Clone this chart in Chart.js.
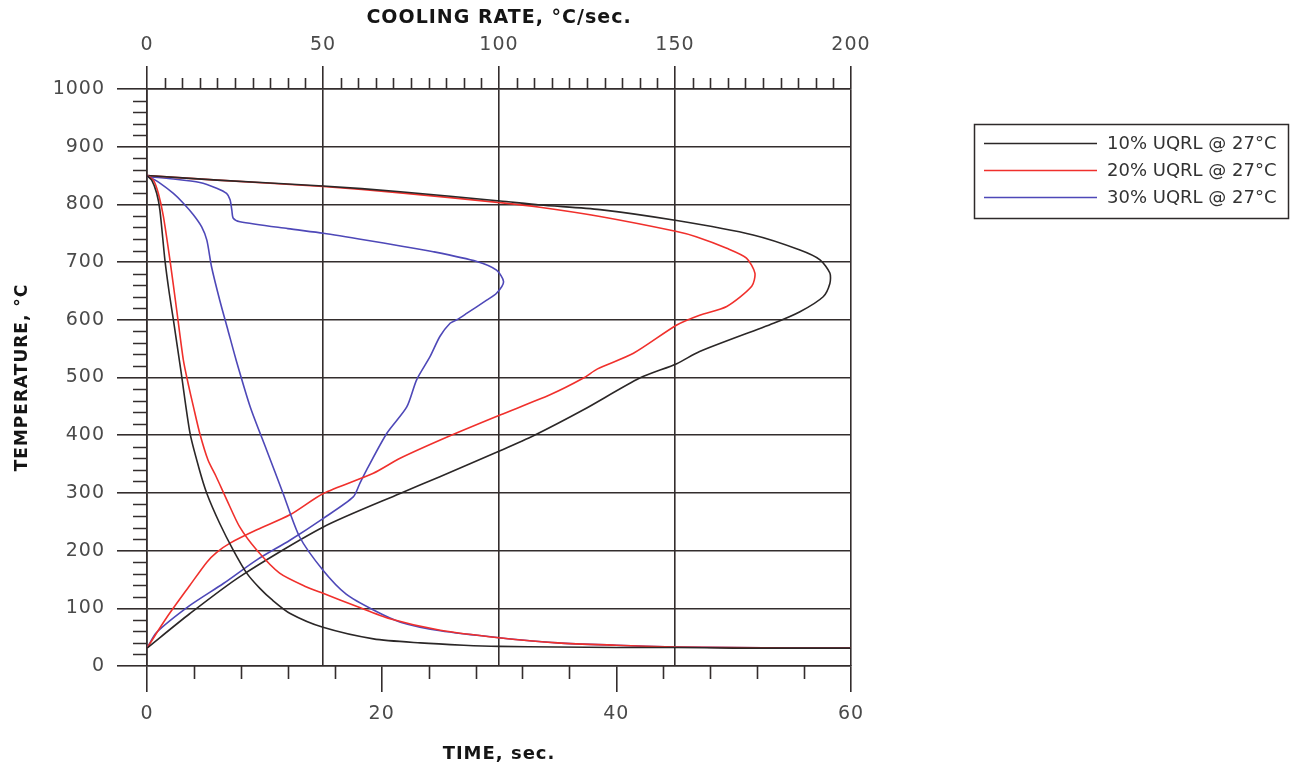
<!DOCTYPE html>
<html>
<head>
<meta charset="utf-8">
<script src="https://cdn.jsdelivr.net/npm/chart.js@4.4.0/dist/chart.umd.min.js"></script>
<style>
html,body{margin:0;padding:0;background:#ffffff;}
#wrap{width:1290px;height:765px;position:relative;}
</style>
</head>
<body>
<div id="wrap"><canvas id="c" width="1290" height="765"></canvas></div>
<script>
// ---------- labels / ticks ----------
const seriesLabels = ['10% UQRL @ 27\u00B0C', '20% UQRL @ 27\u00B0C', '30% UQRL @ 27\u00B0C'];
const seriesColors = ['#2b2727', '#f0302c', '#4e48b8'];
const timeTicks = [0, 20, 40, 60];
const rateTicks = [0, 50, 100, 150, 200];
const tempTicks = [0, 100, 200, 300, 400, 500, 600, 700, 800, 900, 1000];
const timeMinor = [4, 8, 12, 16, 24, 28, 32, 36, 44, 48, 52, 56];
const rateMinor = [5,10,15,20,25,30,35,40,45, 55,60,65,70,75,80,85,90,95, 105,110,115,120,125,130,135,140,145, 155,160,165,170,175,180,185,190,195];
const tempMinor = [20,40,60,80, 120,140,160,180, 220,240,260,280, 320,340,360,380, 420,440,460,480, 520,540,560,580, 620,640,660,680, 720,740,760,780, 820,840,860,880, 920,940,960,980];

// ---------- cooling curves: temperature vs time ----------
const time10 = [0, 0.4, 0.83, 1.1, 1.53, 1.9, 2.25, 2.9, 3.67, 4.4, 5.1, 6.2, 7.35, 8.5, 9.6, 10.7, 12.2, 15, 19.3, 23.3, 27, 30, 35, 40, 45, 50, 55, 60];
const temp10 = [850, 842, 819, 790, 703, 646, 600, 510, 403, 345, 299, 247, 201, 161, 135, 114, 91, 67, 47, 40, 36, 34, 33, 32, 32, 31, 31, 31];

const time20 = [0, 0.54, 0.97, 1.4, 1.96, 2.53, 3.1, 3.5, 3.95, 4.5, 5.2, 5.9, 6.8, 7.9, 9.35, 11.3, 13.6, 15, 17.9, 20.7, 25, 30, 35, 40, 45, 50, 55, 60];
const temp20 = [850, 842, 819, 779, 703, 617, 530, 490, 450, 403, 357, 328, 288, 241, 201, 161, 137, 126, 103, 82, 62, 49, 40, 36, 33, 32, 31, 31];

const time30 = [0, 1.1, 2.25, 3.1, 3.95, 4.66, 5.1, 5.5, 6.2, 6.9, 7.6, 8.8, 10.2, 11.6, 13.0, 15, 17, 19.3, 21.6, 25, 30, 35, 40, 45, 50, 55, 60];
const temp30 = [850, 837, 819, 802, 782, 761, 738, 692, 634, 582, 530, 449, 374, 299, 224, 166, 124, 97, 76, 61, 49, 40, 36, 33, 32, 31, 31];

// ---------- cooling rate curves: temperature vs cooling rate ----------
const rate10 = [0, 20, 50, 72, 100.3, 111.6, 128.7, 150.5, 172.2, 185.5, 191.2, 194, 194, 192.1, 185.5, 178, 157, 150.5, 140, 124, 109.8, 100.3, 83.2, 71.9, 50.1, 26.4, 12.2, 0];
const rateTemp10 = [850, 842, 832, 822, 806, 799, 791, 772, 747, 721, 704, 681, 663, 640, 614, 594, 545, 524, 499, 444, 399, 373, 328, 299, 241, 155, 91, 31];

const rate20 = [0, 20, 50, 72, 100.3, 111.6, 128.7, 150.5, 156, 164.7, 170.3, 172.7, 171.8, 164.7, 157, 150.5, 138.2, 128, 124, 114.5, 100.3, 86.1, 71.9, 64.3, 50.1, 40.6, 31.2, 23.6, 19.8, 17, 12.2, 5.6, 0];
const rateTemp20 = [850, 842, 831, 820, 803, 795, 779, 753, 744, 724, 707, 681, 658, 623, 608, 591, 542, 515, 499, 470, 435, 399, 360, 334, 299, 262, 236, 213, 197, 180, 140, 84, 31];

const rate30 = [0, 7.5, 15, 19.8, 22.6, 23.6, 24.1, 24.5, 26.4, 40, 50.1, 62.4, 72, 81.3, 93.7, 99.3, 101.3, 99.3, 96.5, 90.8, 88, 86.1, 83.2, 80.4, 76.6, 73.8, 68.1, 62.4, 60.5, 58.6, 50.1, 40.6, 31.2, 21.7, 12.2, 2.7, 0];
const rateTemp30 = [848, 844, 838, 828, 819, 808, 790, 776, 770, 758, 750, 738, 728, 718, 701, 686, 666, 646, 634, 611, 600, 594, 571, 536, 496, 449, 403, 340, 317, 293, 256, 218, 184, 143, 105, 58, 31];

// ---------- styling ----------
const gridColor = '#332d2d';
const tickColor = '#4a4a4a';
const titleColor = '#151515';

function pts(xs, ys) { return xs.map((v, i) => ({ x: v, y: ys[i] })); }

function ds(label, xs, ys, color, axis) {
  return {
    label: label,
    data: pts(xs, ys),
    xAxisID: axis,
    yAxisID: 'y',
    showLine: true,
    borderColor: color,
    backgroundColor: color,
    borderWidth: 1.6,
    pointRadius: 0,
    pointHoverRadius: 0,
    tension: 0.25,
    fill: false
  };
}

const datasets = [
  ds(seriesLabels[0], time10, temp10, seriesColors[0], 'x'),
  ds(seriesLabels[1], time20, temp20, seriesColors[1], 'x'),
  ds(seriesLabels[2], time30, temp30, seriesColors[2], 'x'),
  ds(seriesLabels[0], rate10, rateTemp10, seriesColors[0], 'x2'),
  ds(seriesLabels[1], rate20, rateTemp20, seriesColors[1], 'x2'),
  ds(seriesLabels[2], rate30, rateTemp30, seriesColors[2], 'x2')
];

const extras = {
  id: 'extras',
  beforeDraw(chart) {
    chart.ctx.letterSpacing = '1px';
  },
  afterDraw(chart) {
    const ctx = chart.ctx;
    const sx = chart.scales.x, sx2 = chart.scales.x2, sy = chart.scales.y;
    ctx.save();
    ctx.strokeStyle = gridColor;
    ctx.lineWidth = 1.6;
    ctx.beginPath();
    tempMinor.forEach(v => {
      const py = Math.round(sy.getPixelForValue(v)) + 0.5;
      ctx.moveTo(sy.right - 14, py); ctx.lineTo(sy.right, py);
    });
    rateMinor.forEach(v => {
      const px = Math.round(sx2.getPixelForValue(v)) + 0.5;
      ctx.moveTo(px, sx2.bottom); ctx.lineTo(px, sx2.bottom - 11);
    });
    timeMinor.forEach(v => {
      const px = Math.round(sx.getPixelForValue(v)) + 0.5;
      ctx.moveTo(px, sx.top); ctx.lineTo(px, sx.top + 13);
    });
    ctx.stroke();

    // legend
    const bx = 974.5, by = 124.5, bw = 314, bh = 94;
    ctx.lineWidth = 1.5;
    ctx.strokeStyle = '#2e2a2a';
    ctx.strokeRect(bx, by, bw, bh);
    ctx.letterSpacing = '0px';
    ctx.font = '18px "DejaVu Sans"';
    ctx.textBaseline = 'middle';
    ctx.textAlign = 'left';
    const rows = [143, 170, 197];
    for (let i = 0; i < 3; i++) {
      const d = chart.data.datasets[i];
      ctx.strokeStyle = d.borderColor;
      ctx.lineWidth = 1.6;
      ctx.beginPath();
      ctx.moveTo(984, rows[i] + 0.5);
      ctx.lineTo(1097, rows[i] + 0.5);
      ctx.stroke();
      ctx.fillStyle = '#333333';
      ctx.fillText(d.label, 1107, rows[i] + 1);
    }
    ctx.restore();
  }
};

const plainLabel = v => String(v);

new Chart(document.getElementById('c'), {
  type: 'scatter',
  data: { datasets: datasets },
  plugins: [extras],
  options: {
    responsive: false,
    animation: false,
    devicePixelRatio: 1,
    layout: { padding: { left: 0, right: 439, top: 0, bottom: 0 } },
    plugins: { legend: { display: false }, tooltip: { enabled: false } },
    events: [],
    scales: {
      x: {
        type: 'linear', position: 'bottom', min: 0, max: 60,
        afterBuildTicks: s => { s.ticks = timeTicks.map(v => ({ value: v })); },
        afterFit: s => { s.height = 99; },
        grid: { drawOnChartArea: false, drawTicks: true, tickLength: 26, color: gridColor, lineWidth: 1.6 },
        border: { display: true, color: gridColor, width: 1.6 },
        ticks: { color: tickColor, padding: 11, maxRotation: 0, callback: plainLabel, font: { family: 'DejaVu Sans', size: 19 } },
        title: { display: true, text: 'TIME, sec.', color: titleColor, padding: { top: 0, bottom: 0 }, font: { family: 'DejaVu Sans', size: 18, weight: 'bold' } }
      },
      x2: {
        type: 'linear', position: 'top', min: 0, max: 200,
        afterBuildTicks: s => { s.ticks = rateTicks.map(v => ({ value: v })); },
        afterFit: s => { s.height = 89; },
        grid: { drawOnChartArea: true, drawTicks: true, tickLength: 23, color: gridColor, lineWidth: 1.6 },
        border: { display: true, color: gridColor, width: 1.6 },
        ticks: { color: tickColor, padding: 10, maxRotation: 0, callback: plainLabel, font: { family: 'DejaVu Sans', size: 19 } },
        title: { display: true, text: 'COOLING RATE, \u00B0C/sec.', color: titleColor, padding: { top: 7, bottom: 0 }, font: { family: 'DejaVu Sans', size: 19, weight: 'bold' } }
      },
      y: {
        type: 'linear', position: 'left', min: 0, max: 1000,
        afterBuildTicks: s => { s.ticks = tempTicks.map(v => ({ value: v })); },
        afterFit: s => { s.width = 147; },
        grid: { drawOnChartArea: true, drawTicks: true, tickLength: 30, color: gridColor, lineWidth: 1.6 },
        border: { display: true, color: gridColor, width: 1.6 },
        ticks: { color: tickColor, padding: 12, callback: plainLabel, font: { family: 'DejaVu Sans', size: 19 } },
        title: { display: true, text: 'TEMPERATURE, \u00B0C', color: titleColor, padding: { top: 12, bottom: 0 }, font: { family: 'DejaVu Sans', size: 17, weight: 'bold' } }
      }
    }
  }
});
</script>
</body>
</html>
